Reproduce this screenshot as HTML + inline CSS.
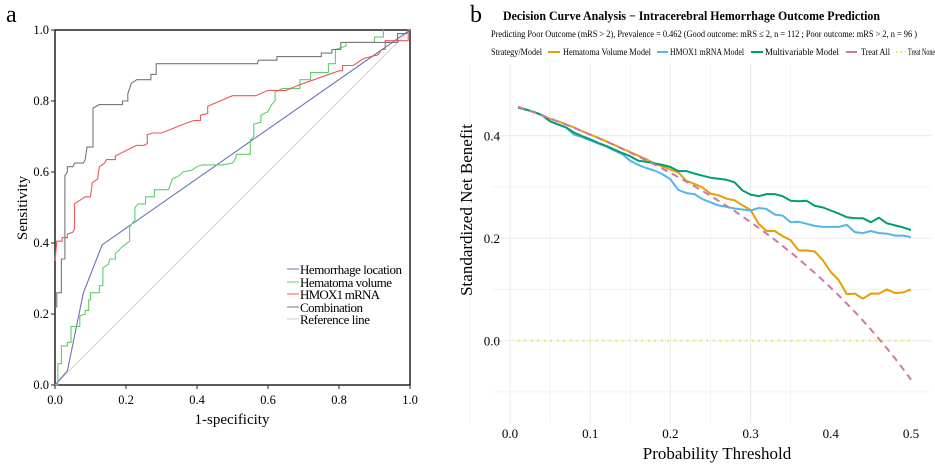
<!DOCTYPE html>
<html><head><meta charset="utf-8"><style>
html,body{margin:0;padding:0;background:#fff;}
svg{display:block;font-family:"Liberation Serif",serif;}
</style></head><body>
<svg id="fig" width="935" height="467" viewBox="0 0 935 467">
<g id="pa">
  <text x="6" y="22" font-size="24">a</text>
  <rect x="55" y="30" width="355" height="355" fill="none" stroke="#222" stroke-width="1.5"/>
  <g id="aAxes"></g>
  <g id="aLines"></g>
  <text x="232" y="424" font-size="15" text-anchor="middle">1-specificity</text>
  <text x="0" y="0" font-size="15" text-anchor="middle" transform="translate(27,208) rotate(-90)">Sensitivity</text>
  <g font-size="13">
    <line x1="287" y1="269" x2="299" y2="269" stroke="#6673b8"/>
    <text x="300" y="274" textLength="102">Hemorrhage location</text>
    <line x1="287" y1="282" x2="299" y2="282" stroke="#5fce6a"/>
    <text x="300" y="287" textLength="92">Hematoma volume</text>
    <line x1="287" y1="294" x2="299" y2="294" stroke="#e8595e"/>
    <text x="300" y="299" textLength="80">HMOX1 mRNA</text>
    <line x1="287" y1="307" x2="299" y2="307" stroke="#777"/>
    <text x="300" y="312" textLength="63">Combination</text>
    <line x1="287" y1="319" x2="299" y2="319" stroke="#ccc"/>
    <text x="300" y="324" textLength="70">Reference line</text>
  </g>
</g>
<g id="pb">
  <text x="470" y="22" font-size="24">b</text>
  <text x="503" y="20" font-size="12.5" font-weight="bold" textLength="377" lengthAdjust="spacingAndGlyphs">Decision Curve Analysis − Intracerebral Hemorrhage Outcome Prediction</text>
  <text x="491" y="37" font-size="9.3" textLength="426" lengthAdjust="spacingAndGlyphs">Predicting Poor Outcome (mRS &gt; 2), Prevalence = 0.462  (Good outcome: mRS ≤ 2, n = 112 ; Poor outcome: mRS &gt; 2, n = 96 )</text>
  <g font-size="9.3">
    <text x="491" y="55" textLength="51" lengthAdjust="spacingAndGlyphs">Strategy/Model</text>
    <line x1="548" y1="52" x2="560" y2="52" stroke="#E69F00" stroke-width="2"/>
    <text x="563" y="55" textLength="88" lengthAdjust="spacingAndGlyphs">Hematoma Volume Model</text>
    <line x1="657" y1="52" x2="668" y2="52" stroke="#56B4E9" stroke-width="2"/>
    <text x="670" y="55" textLength="74" lengthAdjust="spacingAndGlyphs">HMOX1 mRNA Model</text>
    <line x1="751" y1="52" x2="763" y2="52" stroke="#009E73" stroke-width="2"/>
    <text x="765" y="55" textLength="74" lengthAdjust="spacingAndGlyphs">Multivariable Model</text>
    <line x1="846" y1="52" x2="857" y2="52" stroke="#CC79A7" stroke-width="2"/>
    <text x="861" y="55" textLength="29" lengthAdjust="spacingAndGlyphs">Treat All</text>
    <line x1="896" y1="52" x2="906" y2="52" stroke="#F0E442" stroke-width="2" stroke-dasharray="1.5 3"/>
    <text x="908" y="55" textLength="27" lengthAdjust="spacingAndGlyphs">Treat None</text>
  </g>
  <g id="bGrid"></g>
  <g id="bLines"></g>
  <text x="717" y="459" font-size="17" text-anchor="middle">Probability Threshold</text>
  <text x="0" y="0" font-size="17" text-anchor="middle" transform="translate(472,210) rotate(-90)">Standardized Net Benefit</text>
</g>
</svg>
<script>
// ---------- Panel a data ----------
const rocTicks = [0, 0.2, 0.4, 0.6, 0.8, 1.0];
const rocTickLabels = ["0.0","0.2","0.4","0.6","0.8","1.0"];
const locFpr = [0, 0.035, 0.08, 0.133, 1];
const locTpr = [0, 0.04, 0.26, 0.395, 1];
const volFpr = [0,.008,.008,.018,.018,.035,.035,.045,.045,.07,.07,.085,.085,.095,.095,.1,.1,.125,.125,.135,.135,.15,.155,.17,.17,.18,.19,.21,.21,.225,.225,.235,.255,.255,.28,.28,.32,.33,.35,.36,.385,.4,.415,.47,.5,.51,.51,.55,.55,.56,.56,.58,.58,.6,.61,.62,.62,.64,.69,.69,.72,.72,.77,.77,.79,.79,.82,.82,.9,.9,.925,.925];
const volTpr = [0,0,.06,.06,.11,.11,.12,.12,.165,.165,.195,.2,.21,.21,.24,.24,.26,.26,.28,.28,.33,.34,.355,.355,.37,.38,.39,.405,.445,.465,.5,.51,.51,.53,.53,.55,.55,.58,.59,.6,.605,.615,.62,.62,.625,.64,.65,.65,.69,.70,.735,.74,.76,.77,.79,.80,.825,.835,.835,.86,.86,.88,.88,.905,.905,.945,.955,.965,.965,.98,.98,1];
const hmFpr = [0,.005,.02,.02,.035,.035,.05,.055,.055,.07,.085,.1,.105,.12,.125,.14,.145,.17,.17,.22,.23,.25,.26,.26,.275,.3,.35,.39,.41,.41,.43,.43,.5,.565,.6,.65,.7,.73,.8,.81,.81,.84,.87,.91,.92,.93,.93,.995,.995,1];
const hmTpr = [.35,.405,.405,.415,.415,.425,.43,.44,.51,.52,.53,.53,.57,.58,.615,.625,.635,.635,.645,.67,.675,.675,.68,.705,.71,.71,.73,.745,.745,.76,.765,.785,.815,.815,.83,.83,.85,.86,.885,.885,.9,.9,.92,.93,.945,.945,.97,.97,1,1];
const comFpr = [0,.005,.005,.018,.018,.028,.028,.035,.035,.05,.055,.08,.085,.09,.107,.107,.125,.19,.19,.205,.205,.215,.23,.27,.27,.285,.285,.57,.573,.625,.625,.75,.75,.78,.78,.805,.805,.965,.965,.99,1];
const comTpr = [.22,.22,.26,.26,.355,.355,.59,.6,.615,.615,.625,.625,.635,.67,.67,.78,.79,.79,.80,.80,.82,.85,.86,.86,.875,.875,.905,.905,.915,.915,.925,.925,.935,.935,.945,.945,.965,.965,.99,.99,1];
const refFpr = [0, 1];
const refTpr = [0, 1];

// ---------- Panel b data ----------
const thresholds = [.01,.02,.03,.04,.05,.06,.07,.08,.09,.10,.11,.12,.13,.14,.15,.16,.17,.18,.19,.20,.21,.22,.23,.24,.25,.26,.27,.28,.29,.30,.31,.32,.33,.34,.35,.36,.37,.38,.39,.40,.41,.42,.43,.44,.45,.46,.47,.48,.49,.50];
const treatAll = [.4566,.4510,.4454,.4396,.4337,.4277,.4215,.4152,.4088,.4022,.3955,.3886,.3816,.3744,.3671,.3595,.3518,.3439,.3358,.3275,.3190,.3102,.3013,.2921,.2827,.2730,.2630,.2528,.2422,.2314,.2203,.2088,.1970,.1848,.1723,.1594,.1460,.1323,.1181,.1033,.0881,.0724,.0561,.0393,.0218,.0037,-.0151,-.0346,-.0549,-.076];
const multiModel = [.455,.451,.446,.440,.428,.422,.416,.406,.399,.393,.386,.380,.373,.366,.360,.351,.349,.346,.343,.339,.331,.331,.326,.322,.318,.316,.314,.309,.293,.285,.282,.286,.286,.282,.273,.272,.273,.263,.260,.254,.248,.241,.239,.239,.231,.240,.229,.225,.221,.216];
const hmoxModel = [.455,.451,.446,.440,.428,.422,.416,.402,.397,.391,.385,.379,.371,.364,.351,.343,.337,.332,.325,.315,.294,.288,.286,.276,.270,.264,.261,.258,.256,.254,.259,.257,.246,.244,.231,.232,.228,.224,.222,.222,.222,.226,.212,.210,.214,.210,.209,.205,.205,.202];
const volModel = [.456,.451,.446,.440,.433,.428,.422,.416,.409,.402,.396,.389,.382,.375,.368,.361,.354,.346,.340,.334,.328,.312,.306,.299,.287,.284,.277,.274,.264,.255,.228,.214,.214,.204,.196,.176,.176,.174,.157,.134,.118,.091,.092,.082,.092,.092,.100,.093,.094,.100];
const treatNone = thresholds.map(() => 0);
const xTicksB = [0, 0.1, 0.2, 0.3, 0.4, 0.5];
const xTickLabelsB = ["0.0","0.1","0.2","0.3","0.4","0.5"];
const yTicksB = [0, 0.2, 0.4];
const yTickLabelsB = ["0.0","0.2","0.4"];

const NS = "http://www.w3.org/2000/svg";
function mk(tag, attrs, parent){ const e=document.createElementNS(NS,tag); for(const k in attrs) e.setAttribute(k,attrs[k]); parent.appendChild(e); return e; }

const ax = v => 55 + v*355;
const ay = v => 385 - v*355;
const aAxes = document.getElementById('aAxes');
rocTicks.forEach((t,i)=>{
  let l=mk('line',{x1:ax(t),x2:ax(t),y1:385,y2:389,stroke:'#222'},aAxes);
  
  
  let tx=mk('text',{x:ax(t),y:404,'font-size':12.5,'text-anchor':'middle'},aAxes);
  tx.textContent=rocTickLabels[i];
  
  
  let l2=mk('line',{x1:51,x2:55,y1:ay(t),y2:ay(t),stroke:'#222'},aAxes);
  
  
  let ty=mk('text',{x:49,y:ay(t)+4,'font-size':12.5,'text-anchor':'end'},aAxes);
  ty.textContent=rocTickLabels[i];
  
  
});
const aLines = document.getElementById('aLines');
function rocLine(xs, ys, color, name, w){
  const d = xs.map((x,i)=>(i?'L':'M')+ax(x).toFixed(1)+','+ay(ys[i]).toFixed(1)).join('');
  const p = mk('path',{d:d,fill:'none',stroke:color,'stroke-width':w||1.1},aLines);
  
  
}
rocLine(refFpr, refTpr, '#d4d4d4', 'reference-line', 1);
rocLine(locFpr, locTpr, '#6673b8', 'curve-hemorrhage-location');
rocLine(volFpr, volTpr, '#5fce6a', 'curve-hematoma-volume');
rocLine(hmFpr, hmTpr, '#e8595e', 'curve-hmox1-mrna');
rocLine(comFpr, comTpr, '#777777', 'curve-combination');

const bx = v => 510 + v*802;
const by = v => 340.7 - v*512.5;
const bGrid = document.getElementById('bGrid');
for (let k=0; k<9; k++){
  const t = -0.05 + k*0.05;
  const g=mk('line',{x1:bx(t),x2:bx(t),y1:63,y2:423,stroke:'#ebebeb','stroke-width':k%2?1.1:0.6},bGrid);
  
  
}
for (let k=0; k<6; k++){
  const v = -0.1 + k*0.1;
  const g=mk('line',{x1:492,x2:931,y1:by(v),y2:by(v),stroke:'#ebebeb','stroke-width':k%2?1.1:0.6},bGrid);
  
  
}
xTicksB.forEach((t,i)=>{
  const tx=mk('text',{x:bx(t),y:438,'font-size':13,'text-anchor':'middle'},bGrid);
  tx.textContent=xTickLabelsB[i];
  
  
});
yTicksB.forEach((t,i)=>{
  const ty=mk('text',{x:500,y:by(t)+5,'font-size':13,'text-anchor':'end'},bGrid);
  ty.textContent=yTickLabelsB[i];
  
  
});
const bLines = document.getElementById('bLines');
function dcaLine(vals, color, name, dash){
  const d = thresholds.map((t,i)=>(i?'L':'M')+bx(t).toFixed(1)+','+by(vals[i]).toFixed(1)).join('');
  const attrs={d:d,fill:'none',stroke:color,'stroke-width':2,'stroke-linejoin':'round'};
  if(dash) attrs['stroke-dasharray']=dash;
  const p = mk('path',attrs,bLines);
  
  
}
dcaLine(treatNone, '#F0E442', 'line-treat-none', '1.5 5');
dcaLine(volModel, '#E69F00', 'line-hematoma-volume-model');
dcaLine(hmoxModel, '#56B4E9', 'line-hmox1-model');
dcaLine(multiModel, '#009E73', 'line-multivariable-model');
dcaLine(treatAll, '#CC79A7', 'line-treat-all', '7 5');
</script>
</body></html>
